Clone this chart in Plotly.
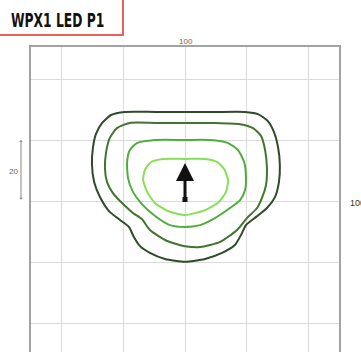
import plotly.graph_objects as go

# Isolux contours (metres, luminaire at origin), outermost first
outer_x = [0, 9.7, 19.5, 23.7, 26.9, 28.9, 30.2, 30.8, 30.5, 29.2, 26.6, 23.1, 19.8, 18.2, 16.2, 12.0, 6.5, 0,
           -6.5, -11.4, -14.6, -16.6, -18.2, -21.1, -24.7, -27.6, -29.5, -30.2, -29.9, -28.9, -26.9, -24.0, -19.5, -9.7, 0]
outer_y = [29.2, 29.2, 29.2, 28.5, 26.2, 22.6, 17.7, 11.8, 6.2, 1.3, -2.3, -5.2, -7.9, -11.1, -14.4, -17.0, -19.0, -19.9,
           -19.0, -17.0, -14.8, -11.8, -8.5, -6.2, -3.3, 1.3, 6.2, 11.8, 17.4, 22.0, 25.6, 28.2, 29.2, 29.2, 29.2]

second_x = [0, 9.7, 17.9, 22.1, 24.7, 26.0, 26.6, 26.3, 25.0, 23.4, 20.1, 16.9, 11.4, 4.9, 0,
            -5.8, -11.4, -14.0, -16.9, -20.1, -23.4, -25.3, -26.0, -25.6, -24.4, -22.1, -17.9, -9.7, 0]
second_y = [25.6, 25.6, 25.2, 23.9, 21.3, 16.7, 10.8, 5.2, 1.0, -2.3, -5.6, -9.5, -13.4, -15.1, -14.8,
            -13.1, -9.5, -5.9, -3.9, -1.0, 2.6, 6.2, 10.8, 16.1, 20.7, 23.9, 25.6, 25.6, 25.6]

third_x = [0, 8.1, 14.0, 17.2, 19.2, 19.8, 19.5, 17.9, 14.6, 9.7, 4.9, 0,
           -4.9, -9.7, -14.0, -16.9, -18.5, -18.8, -17.9, -15.6, -9.7, 0]
third_y = [20.0, 20.0, 19.0, 16.7, 12.8, 7.5, 3.6, 0.3, -2.3, -5.6, -7.9, -8.5,
           -7.9, -4.9, -1.0, 3.0, 7.5, 12.8, 16.7, 19.0, 20.0, 20.0]

inner_x = [0, 6.5, 10.4, 12.7, 14.0, 13.3, 11.0, 6.5, 0, -5.5, -9.7, -12.3, -13.6, -13.0, -11.0, -7.1, 0]
inner_y = [13.8, 13.8, 12.8, 10.5, 6.9, 3.0, -0.3, -3.0, -4.6, -3.3, -0.7, 3.0, 6.9, 10.2, 12.8, 13.8, 13.8]

contour_colors = ["#2f4a29", "#40742f", "#4fae3a", "#86e055"]

# Aiming arrow: base and tip
arrow_base = (0, 0.5)
arrow_tip = (0, 12.5)

title_text = "WPX1 LED P1"
top_label = "100"
right_label = "100"
scale_label = "20"

W, H = 361, 352
ML, MR, MT, MB = 31, 22, 47, 0
PW, PH = W - ML - MR, H - MT - MB


def px(xp):
    return (xp - ML) / PW


def py(yp):
    return (H - MB - yp) / PH


fig = go.Figure()
for (cx, cy), col in zip([(outer_x, outer_y), (second_x, second_y), (third_x, third_y), (inner_x, inner_y)],
                         contour_colors):
    fig.add_trace(go.Scatter(x=cx, y=cy, mode="lines",
                             line=dict(color=col, width=2, shape="spline", smoothing=0.6),
                             hoverinfo="skip", showlegend=False))

fig.add_trace(go.Scatter(x=[arrow_base[0]], y=[arrow_base[1]], mode="markers",
                         marker=dict(symbol="square", size=5, color="#111111"),
                         hoverinfo="skip", showlegend=False))

annotations = [
    dict(x=arrow_tip[0], y=arrow_tip[1], ax=arrow_base[0], ay=arrow_base[1], xref="x", yref="y",
         axref="x", ayref="y", text="", showarrow=True, arrowhead=2, arrowsize=1.2,
         arrowwidth=3, arrowcolor="#111111"),
    dict(x=px(186), y=py(41), xref="paper", yref="paper", text=top_label, showarrow=False,
         xanchor="center", yanchor="middle",
         font=dict(family="Arial, Liberation Sans", size=8, color="#666666")),
    dict(x=px(348), y=py(203), xref="paper", yref="paper", text=right_label, showarrow=False,
         xanchor="left", yanchor="middle",
         font=dict(family="Arial, Liberation Sans", size=9, color="#333333")),
    dict(x=px(13), y=py(171), xref="paper", yref="paper", text=scale_label, showarrow=False,
         xanchor="center", yanchor="middle",
         font=dict(family="Arial, Liberation Sans", size=8, color="#666666")),
    dict(x=px(21), y=py(140), xref="paper", yref="paper", ax=0, ay=61, text="", showarrow=True,
         arrowside="end+start", arrowhead=1, arrowsize=0.6, arrowwidth=1, arrowcolor="#888888"),
    dict(x=px(9), y=py(20), xref="paper", yref="paper", text=f"<b>{title_text}</b>", showarrow=False,
         xanchor="left", yanchor="middle", name="title",
         font=dict(family="DejaVu Sans Condensed, DejaVu Sans", size=19, color="#111111")),
]

shapes = [
    dict(type="rect", xref="paper", yref="paper", x0=px(-3), x1=px(123), y0=py(-3), y1=py(35),
         line=dict(color="#e8605f", width=2), fillcolor="rgba(0,0,0,0)", layer="above"),
]

fig.update_layout(
    width=W, height=H, margin=dict(l=ML, r=MR, t=MT, b=MB),
    paper_bgcolor="white", plot_bgcolor="white",
    annotations=annotations, shapes=shapes, showlegend=False,
    xaxis=dict(range=[-50, 50], tick0=0, dtick=20, showgrid=True, gridcolor="#dadada", gridwidth=1,
               zeroline=False, showticklabels=False, ticks="", side="top",
               showline=True, linecolor="#a3a3a3", linewidth=1.5, mirror=False, fixedrange=True),
    yaxis=dict(range=[-49.5, 50.5], tick0=0, dtick=20, showgrid=True, gridcolor="#dadada", gridwidth=1,
               zeroline=False, showticklabels=False, ticks="",
               showline=True, linecolor="#a3a3a3", linewidth=1.5, mirror=True, fixedrange=True),
)

# Condensed look for the heading: squeeze the title text horizontally from its left edge
condense_title = """
var gd = document.getElementById('{plot_id}');
gd.querySelectorAll('.annotation-text').forEach(function (t) {
  if (t.textContent.indexOf('WPX1') === 0) {
    t.style.transformBox = 'fill-box';
    t.style.transformOrigin = 'left center';
    t.style.transform = 'scaleX(0.72)';
  }
});
"""

fig.write_html("out.html", post_script=condense_title)
